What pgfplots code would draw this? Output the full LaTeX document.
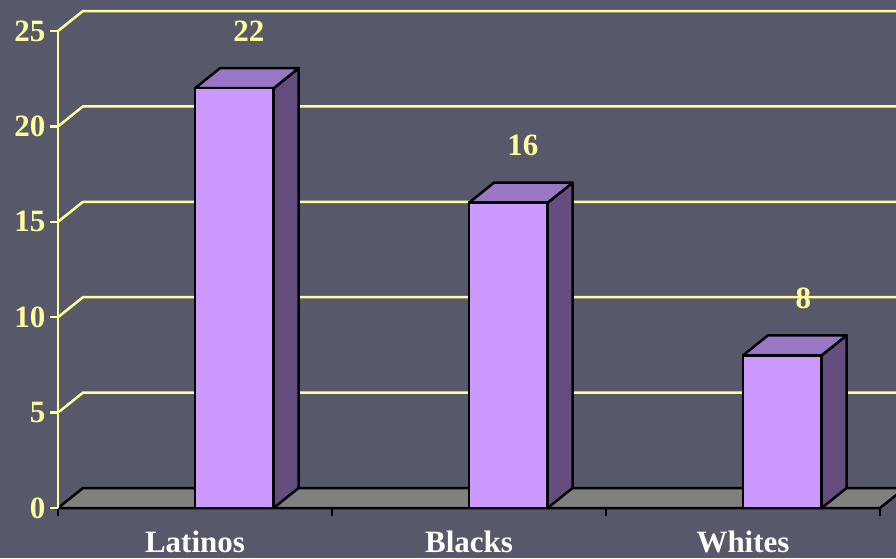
\documentclass[border=0pt]{standalone}
\usepackage{pgfplots}
\pgfplotsset{compat=1.18}
\usepackage{fontspec}
\setmainfont{Liberation Serif}

\definecolor{bgcol}{RGB}{87,89,106}
\definecolor{gridcol}{RGB}{255,255,153}
\definecolor{barfront}{RGB}{204,153,255}
\definecolor{bartop}{RGB}{153,119,196}
\definecolor{barside}{RGB}{102,77,128}
\definecolor{floorcol}{RGB}{128,128,128}

\begin{document}
\begin{tikzpicture}
\fill[bgcol] (0,0) rectangle (896pt,558pt);
\begin{axis}[
  at={(58pt,50pt)}, anchor=south west,
  scale only axis, width=822pt, height=477pt,
  xmin=0, xmax=3, ymin=0, ymax=25,
  clip=false, axis on top, no marks,
  axis x line*=bottom, axis y line*=left,
  x axis line style={black, line width=2.5pt, -},
  y axis line style={gridcol, line width=2.5pt, -},
  ytick={0,5,10,15,20,25},
  ytick style={gridcol, line width=2.5pt},
  tick align=outside, major tick length=8pt,
  xtick={0,1,2,3},
  xticklabels={},
  xtick style={black, line width=2.5pt},
  extra x ticks={0.5,1.5,2.5},
  extra x tick labels={Latinos,Blacks,Whites},
  extra x tick style={major tick length=0pt, tick style={draw=none}},
  /pgf/number format/assume math mode=true,
  ticklabel style={font=\fontsize{31}{33}\selectfont\bfseries},
  yticklabel style={gridcol, xshift=-1pt},
  xticklabel style={white, yshift=-19pt},
]
% floor
\addplot[fill=floorcol, draw=black, line width=2.5pt] coordinates {(0,0) (3,0) (3.0912,1.048) (0.0912,1.048)} -- cycle;
% back-wall gridlines
\addplot[gridcol, line width=2.5pt] coordinates {(0,5) (0.0912,6.048) (3.2,6.048)};
\addplot[gridcol, line width=2.5pt] coordinates {(0,10) (0.0912,11.048) (3.2,11.048)};
\addplot[gridcol, line width=2.5pt] coordinates {(0,15) (0.0912,16.048) (3.2,16.048)};
\addplot[gridcol, line width=2.5pt] coordinates {(0,20) (0.0912,21.048) (3.2,21.048)};
\addplot[gridcol, line width=2.5pt] coordinates {(0,25) (0.0912,26.048) (3.2,26.048)};

% Latinos = 22
\addplot[fill=barside, draw=black, line width=2.5pt, line join=round] coordinates {(0.787,0) (0.878,1.048) (0.878,23.048) (0.787,22)} -- cycle;
\addplot[fill=bartop, draw=black, line width=2.5pt, line join=round] coordinates {(0.5,22) (0.787,22) (0.878,23.048) (0.591,23.048)} -- cycle;
\addplot[fill=barfront, draw=black, line width=2.5pt, line join=round] coordinates {(0.5,0) (0.787,0) (0.787,22) (0.5,22)} -- cycle;

% Blacks = 16
\addplot[fill=barside, draw=black, line width=2.5pt, line join=round] coordinates {(1.787,0) (1.878,1.048) (1.878,17.048) (1.787,16)} -- cycle;
\addplot[fill=bartop, draw=black, line width=2.5pt, line join=round] coordinates {(1.5,16) (1.787,16) (1.878,17.048) (1.591,17.048)} -- cycle;
\addplot[fill=barfront, draw=black, line width=2.5pt, line join=round] coordinates {(1.5,0) (1.787,0) (1.787,16) (1.5,16)} -- cycle;

% Whites = 8
\addplot[fill=barside, draw=black, line width=2.5pt, line join=round] coordinates {(2.787,0) (2.878,1.048) (2.878,9.048) (2.787,8)} -- cycle;
\addplot[fill=bartop, draw=black, line width=2.5pt, line join=round] coordinates {(2.5,8) (2.787,8) (2.878,9.048) (2.591,9.048)} -- cycle;
\addplot[fill=barfront, draw=black, line width=2.5pt, line join=round] coordinates {(2.5,0) (2.787,0) (2.787,8) (2.5,8)} -- cycle;

% value labels
\addplot[draw=none, nodes near coords,
  every node near coord/.append style={gridcol, anchor=center, yshift=57pt,
    font=\fontsize{31}{33}\selectfont\bfseries}]
  coordinates {(0.697,22) (1.697,16) (2.72,8)};
\end{axis}
\pgfresetboundingbox
\useasboundingbox (0,0) rectangle (896pt,558pt);
\end{tikzpicture}
\end{document}
